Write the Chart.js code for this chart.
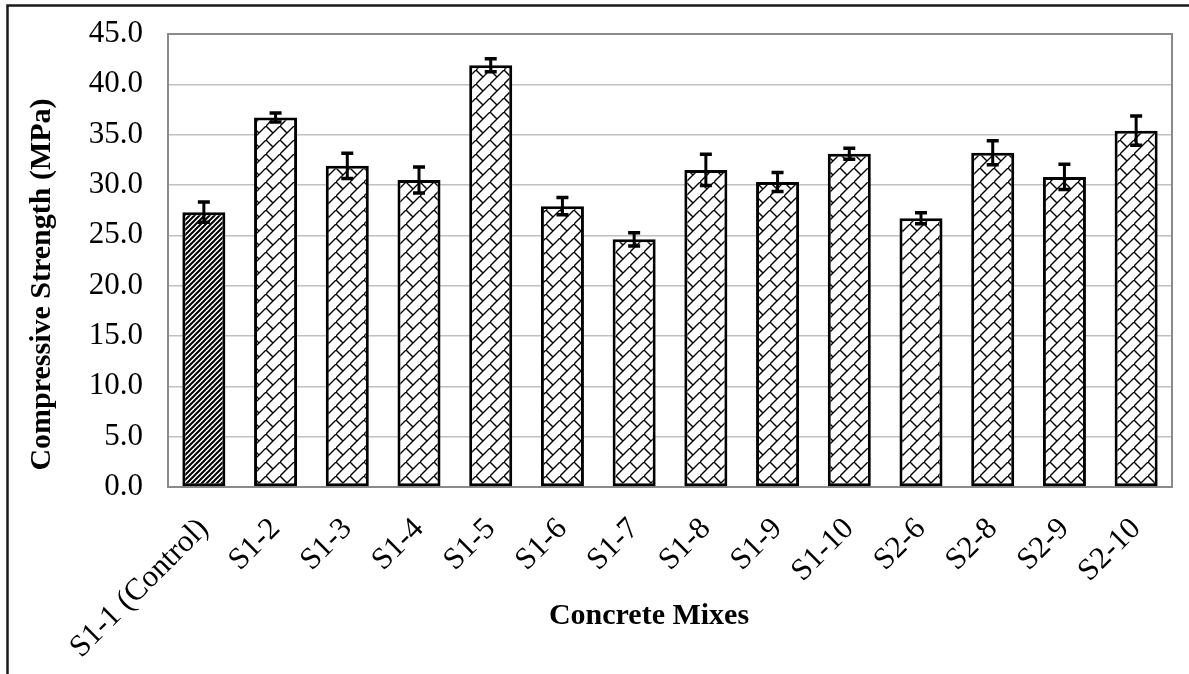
<!DOCTYPE html>
<html>
<head>
<meta charset="utf-8">
<script src="https://cdn.jsdelivr.net/npm/chart.js@4.4.1/dist/chart.umd.min.js"></script>
<style>
  html, body { margin: 0; padding: 0; background: #fff; }
  #wrap { position: relative; width: 1189px; height: 674px; overflow: hidden; }
  canvas { display: block; }
</style>
</head>
<body>
<div id="wrap"><canvas id="chart" width="1189" height="674"></canvas></div>
<script>
// Concrete mixes and their mean compressive strength (MPa) with the spread of each set
const mixes = ['S1-1 (Control)', 'S1-2', 'S1-3', 'S1-4', 'S1-5', 'S1-6', 'S1-7',
               'S1-8', 'S1-9', 'S1-10', 'S2-6', 'S2-8', 'S2-9', 'S2-10'];
const strength = [27.3, 36.7, 31.9, 30.5, 41.9, 27.9, 24.6, 31.5, 30.3, 33.1, 26.7, 33.2, 30.8, 35.4];
const spread = [1.0, 0.45, 1.25, 1.3, 0.65, 0.85, 0.65, 1.55, 0.95, 0.55, 0.55, 1.2, 1.25, 1.45];
const yTickLabels = ['0.0', '5.0', '10.0', '15.0', '20.0', '25.0', '30.0', '35.0', '40.0', '45.0'];

const SERIF = '"Liberation Serif", "Times New Roman", serif';
const canvas = document.getElementById('chart');
const ctx = canvas.getContext('2d');

// Dense upward-diagonal hatching for the control mix
function stripePattern() {
  const p = 5;
  const c = document.createElement('canvas');
  c.width = p; c.height = p;
  const g = c.getContext('2d');
  g.fillStyle = '#fff';
  g.fillRect(0, 0, p, p);
  g.strokeStyle = '#000';
  g.lineWidth = 2;
  g.beginPath();
  g.moveTo(-1, p + 1); g.lineTo(p + 1, -1);
  g.moveTo(-1, 1); g.lineTo(1, -1);
  g.moveTo(p - 1, p + 1); g.lineTo(p + 1, p - 1);
  g.stroke();
  return ctx.createPattern(c, 'repeat');
}

// Diagonal brick hatching for the other mixes
function brickPattern() {
  const t = 14;
  const c = document.createElement('canvas');
  c.width = t; c.height = t;
  const g = c.getContext('2d');
  g.fillStyle = '#fff';
  g.fillRect(0, 0, t, t);
  g.strokeStyle = '#000';
  g.lineWidth = 1.4;
  g.lineCap = 'round';
  g.beginPath();
  g.moveTo(-1, t + 1); g.lineTo(t + 1, -1);
  g.moveTo(0, 0); g.lineTo(t / 2, t / 2);
  g.stroke();
  return ctx.createPattern(c, 'repeat');
}

const stripes = stripePattern();
const bricks = brickPattern();
const fills = mixes.map((m, i) => (i === 0 ? stripes : bricks));

// Outer frame, plot outline, error bars and axis titles
const decorations = {
  id: 'decorations',
  beforeDraw(chart) {
    const g = chart.ctx;
    g.save();
    g.fillStyle = '#fff';
    g.fillRect(0, 0, chart.width, chart.height);
    g.strokeStyle = '#1a1a1a';
    g.lineWidth = 2.5;
    g.beginPath();
    g.moveTo(7.5, chart.height + 2);
    g.lineTo(7.5, 5.5);
    g.lineTo(chart.width + 2, 5.5);
    g.stroke();
    g.restore();
  },
  beforeDatasetsDraw(chart) {
    const a = chart.chartArea;
    const g = chart.ctx;
    g.save();
    g.strokeStyle = '#8a8a8a';
    g.lineWidth = 2;
    g.strokeRect(a.left, a.top, a.right - a.left, a.bottom - a.top);
    g.restore();
  },
  afterDatasetsDraw(chart) {
    const g = chart.ctx;
    const y = chart.scales.y;
    const meta = chart.getDatasetMeta(0);
    g.save();
    g.strokeStyle = '#000';
    g.lineCap = 'butt';
    meta.data.forEach((bar, i) => {
      const x = bar.x;
      const hi = y.getPixelForValue(strength[i] + spread[i]);
      const lo = y.getPixelForValue(strength[i] - spread[i]);
      g.lineWidth = 3;
      g.beginPath();
      g.moveTo(x, hi); g.lineTo(x, lo);
      g.stroke();
      g.lineWidth = 3.5;
      g.beginPath();
      g.moveTo(x - 6, hi); g.lineTo(x + 6, hi);
      g.moveTo(x - 6, lo); g.lineTo(x + 6, lo);
      g.stroke();
    });
    g.restore();

    const a = chart.chartArea;
    g.save();
    g.fillStyle = '#000';
    g.font = 'bold 30px ' + SERIF;
    g.textAlign = 'center';
    g.textBaseline = 'middle';
    g.translate(42, (a.top + a.bottom) / 2 + 24);
    g.rotate(-Math.PI / 2);
    g.fillText('Compressive Strength (MPa)', 0, 0);
    g.restore();

    g.save();
    g.fillStyle = '#000';
    g.font = 'bold 30px ' + SERIF;
    g.textAlign = 'center';
    g.textBaseline = 'alphabetic';
    g.fillText('Concrete Mixes', (a.left + a.right) / 2 - 21, 624);
    g.restore();
  }
};

new Chart(ctx, {
  type: 'bar',
  data: {
    labels: mixes,
    datasets: [{
      data: strength,
      backgroundColor: fills,
      borderColor: '#000',
      borderWidth: 3,
      borderSkipped: false,
      categoryPercentage: 1,
      barPercentage: 0.6
    }]
  },
  options: {
    responsive: false,
    animation: false,
    events: [],
    layout: { padding: { top: 34, right: 17, left: 0, bottom: 0 } },
    plugins: { legend: { display: false }, tooltip: { enabled: false } },
    scales: {
      x: {
        grid: { display: false, drawTicks: false },
        border: { display: true, color: '#8a8a8a', width: 2 },
        ticks: {
          color: '#000',
          font: { family: SERIF, size: 31 },
          maxRotation: 45,
          minRotation: 45,
          autoSkip: false,
          padding: 24
        },
        afterFit(scale) { scale.height = 674 - 487; }
      },
      y: {
        min: 0,
        max: 45,
        grid: {
          color: '#c0c0c0',
          lineWidth: 1.5,
          drawTicks: true,
          tickLength: 23,
          tickColor: 'rgba(0,0,0,0)'
        },
        border: { display: true, color: '#8a8a8a', width: 2 },
        ticks: {
          stepSize: 5,
          color: '#000',
          padding: 2,
          font: { family: SERIF, size: 31 },
          callback: (v, i) => yTickLabels[i]
        },
        afterFit(scale) { scale.width = 168; }
      }
    }
  },
  plugins: [decorations]
});
</script>
</body>
</html>
